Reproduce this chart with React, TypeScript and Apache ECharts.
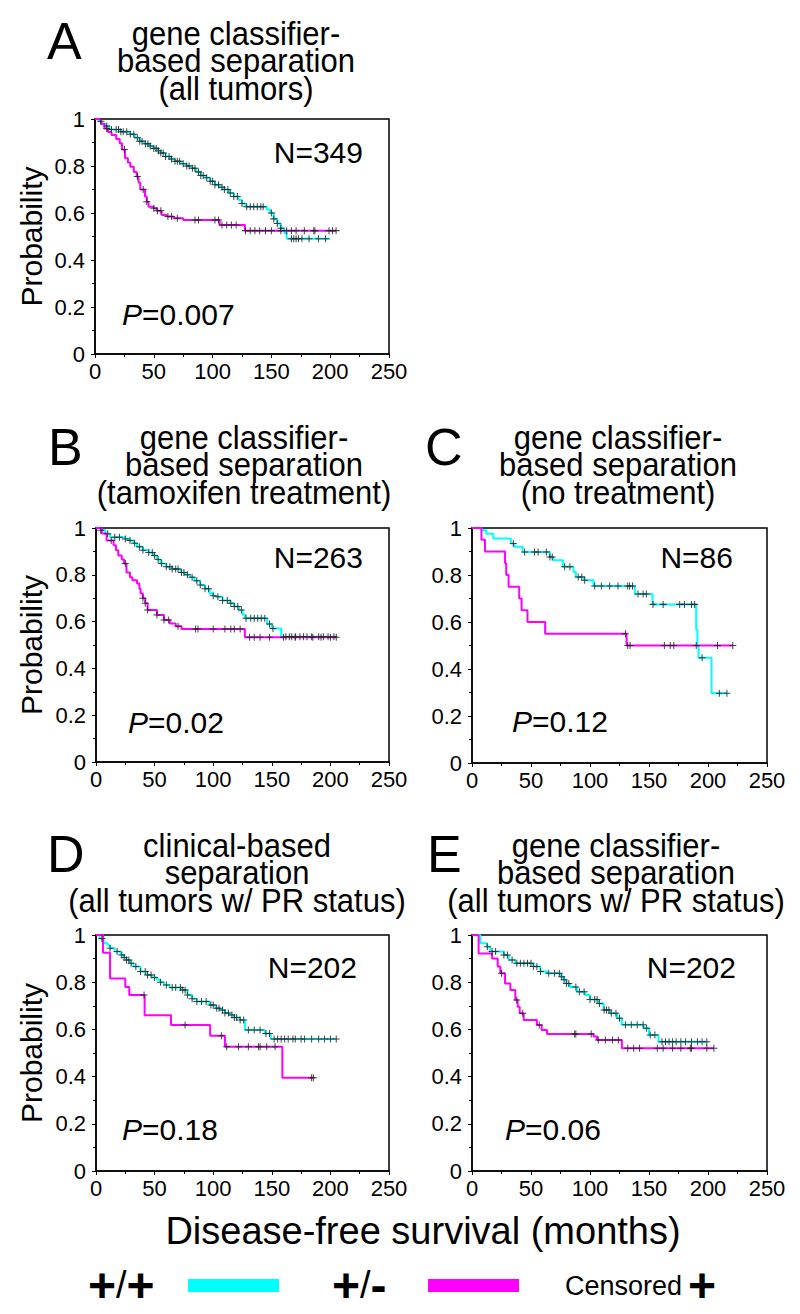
import React, { useEffect, useRef } from 'react';
import * as echarts from 'echarts';

const FONT = '"Liberation Sans", Arial, Helvetica, sans-serif';

// ---- axes ----
const xMin = 0;
const xMax = 250;
const xStep = 50;
const yMin = 0;
const yMax = 1;
const yStep = 0.2;

// ---- labels ----
const panelLetters = ['A', 'B', 'C', 'D', 'E'];
const panelTitles = [
  ['gene classifier-', 'based separation', '(all tumors)'],
  ['gene classifier-', 'based separation', '(tamoxifen treatment)'],
  ['gene classifier-', 'based separation', '(no treatment)'],
  ['clinical-based', 'separation', '(all tumors w/ PR status)'],
  ['gene classifier-', 'based separation', '(all tumors w/ PR status)'],
];
const panelN = ['N=349', 'N=263', 'N=86', 'N=202', 'N=202'];
const panelP = ['0.007', '0.02', '0.12', '0.18', '0.06'];
const yTitle = 'Probability';
const xTitle = 'Disease-free survival (months)';
const legendPlusPlus = '+/+';
const legendPlusMinus = '+/-';
const legendCensored = 'Censored';

// ---- Kaplan-Meier curves [months, probability] ----
const aPP = [[0,1],[3,0.99],[6,0.98],[9,0.97],[12,0.955],[22,0.946],[30,0.935],[34,0.92],[38,0.905],[42,0.895],[46,0.885],[50,0.875],[53,0.865],[56,0.855],[60,0.84],[64,0.83],[68,0.82],[73,0.81],[78,0.8],[82,0.79],[86,0.775],[90,0.76],[94,0.75],[98,0.735],[102,0.72],[106,0.71],[110,0.7],[114,0.685],[118,0.67],[122,0.655],[125,0.64],[128,0.627],[146,0.615],[149,0.6],[152,0.575],[155,0.555],[158,0.535],[161,0.515],[163,0.49],[200,0.49]];
const aPM = [[0,1],[5,0.98],[8,0.96],[11,0.945],[14,0.932],[18,0.915],[21,0.897],[23,0.87],[25.5,0.833],[28,0.815],[30,0.797],[33,0.775],[35.5,0.755],[37,0.73],[38.5,0.7],[42.5,0.67],[44,0.648],[45.5,0.627],[50,0.62],[52.5,0.61],[56.7,0.591],[61,0.585],[66.6,0.578],[75,0.57],[106,0.549],[127.5,0.525],[205,0.525]];
const aPPcens = [5,10,14,18,20,22,24,27,30,33,36,38,40,43,45,47,50,52,54,56,58,60,63,65,68,70,72,75,78,80,83,85,88,90,92,95,98,100,102,105,108,110,113,115,118,121,125,129,132,135,138,141,143,150,152,155,158,167,169,171,173,176,182,190,196];
const aPMcens = [10,25,36,41,44,50,53,56,62,65,70,85,88,102,105,108,112,116,120,128,132,136,140,145,150,158,163,167,171,178,186,187,199,202,205];

const bPP = [[0,1],[4,0.99],[8,0.975],[12,0.96],[25,0.953],[29,0.947],[32,0.935],[35,0.92],[40,0.905],[45,0.895],[49,0.883],[52,0.865],[55,0.848],[60,0.834],[65,0.825],[72,0.81],[76,0.8],[80,0.79],[84,0.775],[89,0.756],[93,0.74],[97,0.72],[100,0.71],[103,0.706],[108,0.69],[114,0.678],[118,0.665],[122,0.65],[125,0.63],[127,0.614],[146,0.59],[150,0.571],[158,0.535],[205,0.535]];
const bPM = [[0,1],[5,0.976],[9,0.947],[15,0.926],[17,0.905],[19,0.883],[22,0.865],[24,0.848],[26,0.81],[29,0.79],[31,0.777],[35,0.763],[37,0.74],[38,0.72],[40,0.7],[42,0.678],[44,0.65],[52,0.628],[58,0.607],[63,0.592],[68,0.58],[73,0.568],[127,0.533],[205,0.533]];
const bPPcens = [4,10,16,20,25,29,33,37,40,45,48,50,53,56,60,63,65,68,70,73,75,78,82,86,89,93,96,100,104,108,112,115,118,121,124,128,132,135,138,141,144,148,151,162,165,167,170,174,177,180,184,190,194,198,203];
const bPMcens = [13,25,40,42,44,52,58,62,70,85,87,100,110,115,118,123,131,135,140,148,160,170,185,192,200,205];

const cPP = [[0,1],[8,0.99],[12,0.976],[18,0.955],[33,0.934],[36,0.92],[43,0.898],[66,0.877],[69,0.863],[77,0.835],[86,0.813],[88,0.792],[95,0.778],[103,0.753],[138,0.719],[153,0.675],[190,0.566],[191,0.495],[192,0.448],[203,0.297],[216,0.297]];
const cPM = [[0,1],[8,0.95],[11,0.9],[28,0.85],[29,0.8],[31,0.75],[40,0.7],[42,0.65],[47,0.6],[62,0.55],[131,0.5],[221,0.5]];
const cPPcens = [35,44.6,53,56,63,66,68,78.5,83,90,93,95.5,104,109.6,116.7,123.7,132,133.6,136,140.7,145,147.7,153.4,162,176,180,186,188.7,195,209.6,216];
const cPMcens = [130,132,134,163,168,171,190,208,221];

const dPP = [[0,1],[3,0.985],[6.5,0.965],[10,0.955],[12,0.944],[16,0.93],[21,0.915],[24,0.905],[26,0.894],[29,0.88],[32,0.866],[38,0.845],[43,0.83],[48,0.82],[52,0.81],[55,0.8],[58,0.788],[63,0.778],[73,0.767],[78,0.746],[82,0.73],[86,0.718],[97,0.703],[102,0.69],[106,0.682],[110,0.67],[114,0.661],[118,0.65],[123,0.64],[127,0.597],[144,0.583],[149,0.559],[205,0.559]];
const dPM = [[0,1],[6,0.925],[12,0.816],[25,0.78],[28.4,0.746],[41.5,0.66],[64,0.619],[97.4,0.573],[110,0.527],[159,0.395],[185.5,0.395]];
const dPPcens = [5,12,18,22,24,26,28,30,34,38,42,44,47,50,55,60,65,68,72,74,76,78,82,86,90,94,98,100,103,105,108,110,113,116,118,120,123,126,130,135,140,145,148,152,155,158,161,164,168,170,175,178,184,190,195,200,205];
const dPMcens = [41,76,107,111.5,121.6,130,138.6,140,145.7,152.8,184,185.5];

const ePP = [[0,1],[7,0.965],[12.7,0.95],[15.5,0.93],[27,0.915],[31,0.894],[36.7,0.88],[52,0.866],[58,0.845],[63.6,0.838],[75,0.823],[77.7,0.81],[80,0.795],[83,0.78],[89,0.76],[96,0.746],[100,0.727],[107,0.71],[111.6,0.682],[117,0.668],[123,0.647],[127,0.62],[145.5,0.605],[150,0.576],[158,0.548],[199,0.548]];
const ePM = [[0,1],[5.6,0.922],[17,0.9],[21.8,0.866],[24,0.838],[28,0.795],[32.5,0.767],[36.7,0.725],[38.7,0.696],[40.4,0.668],[43.8,0.64],[55,0.619],[59,0.597],[63.6,0.58],[103,0.57],[106,0.555],[127,0.52],[205,0.52]];
const ePPcens = [13,17,20,27,30,34,38,41,44,47,50,52,55,58,65,70,74,76,78,80,82,88,91,95,100,104,106,108,112,114,116,118,122,125,130,135,140,145,148,151,155,161,164,167,170,173,177,181,186,191,195,199];
const ePMcens = [25,38,43,57,87,88,101,107,113,119,124,132,137,142,157,162,170,177,185,186,199,205];

const curvesPP = [aPP, bPP, cPP, dPP, ePP];
const curvesPM = [aPM, bPM, cPM, dPM, ePM];
const censPP = [aPPcens, bPPcens, cPPcens, dPPcens, ePPcens];
const censPM = [aPMcens, bPMcens, cPMcens, dPMcens, ePMcens];

// ---- layout (styles / positions) ----
const CYAN = '#00FFFF';
const MAGENTA = '#FF00FF';
const grids = [
  { left: 95, top: 119, width: 294, height: 235 },
  { left: 96, top: 528, width: 293, height: 234 },
  { left: 472, top: 528, width: 295, height: 235 },
  { left: 96, top: 935, width: 293, height: 236 },
  { left: 472, top: 935, width: 295, height: 236 },
];
const letterPos = [[47, 59], [48, 465], [425, 465], [47, 872], [427, 872]];
const titlePos = [[236, 45], [244, 449], [618, 449], [237, 857], [616, 857]];
const nPos = [[363, 163], [363, 568], [733, 568], [357, 978], [736, 978]];
const pPos = [[122, 325], [128, 733], [512, 732], [122, 1140], [505, 1140]];
const showYName = [true, true, false, true, false];

const TITLE_FS = 31;
const TITLE_SY = 1.1;
const TITLE_STEP = 27.7;

const PLUS = 'path://M3,0H4V3H7V4H4V7H3V4H0V3H3Z';

function levelAt(curve: number[][], t: number): number {
  let v = curve[0][1];
  for (const p of curve) {
    if (p[0] <= t) v = p[1];
  }
  return v;
}

function textAt(x: number, baseline: number, text: string, fs: number, align: string, extra: any = {}) {
  return {
    type: 'text',
    x,
    y: baseline - 0.35 * fs,
    silent: true,
    style: {
      text,
      fontSize: fs,
      fontFamily: FONT,
      fill: '#000',
      textAlign: align,
      textVerticalAlign: 'middle',
      align,
      verticalAlign: 'middle',
      ...extra,
    },
  };
}

function centeredText(x: number, y: number, text: string, fs: number, align: string, extra: any = {}) {
  return {
    type: 'text',
    x,
    y,
    silent: true,
    style: {
      text,
      fontSize: fs,
      fontFamily: FONT,
      fill: '#000',
      textAlign: align,
      textVerticalAlign: 'middle',
      align,
      verticalAlign: 'middle',
      ...extra,
    },
  };
}

function titleBlock(cx: number, firstBaseline: number, lines: string[]) {
  const lh = TITLE_STEP / TITLE_SY;
  const top = firstBaseline - TITLE_SY * (lh / 2 + 0.35 * TITLE_FS);
  return {
    type: 'text',
    x: cx,
    y: top,
    scaleY: TITLE_SY,
    silent: true,
    style: {
      text: lines.join('\n'),
      fontSize: TITLE_FS,
      lineHeight: lh,
      fontFamily: FONT,
      fill: '#000',
      textAlign: 'center',
      textVerticalAlign: 'top',
      align: 'center',
      verticalAlign: 'top',
    },
  };
}

function buildOption() {
  const grid: any[] = [];
  const xAxis: any[] = [];
  const yAxis: any[] = [];
  const series: any[] = [];
  const graphic: any[] = [];

  grids.forEach((g, i) => {
    grid.push({ ...g, show: true, borderColor: '#000', borderWidth: 1.5, backgroundColor: 'transparent' });
    xAxis.push({
      gridIndex: i,
      type: 'value',
      min: xMin,
      max: xMax,
      interval: xStep,
      axisLine: { show: true, onZero: false, lineStyle: { color: '#000', width: 1.5 } },
      axisTick: { show: true, length: 4, lineStyle: { color: '#000' } },
      minorTick: { show: true, splitNumber: 2, length: 3, lineStyle: { color: '#000' } },
      splitLine: { show: false },
      axisLabel: { color: '#000', fontSize: 22, fontFamily: FONT, margin: 6 },
    });
    yAxis.push({
      gridIndex: i,
      type: 'value',
      min: yMin,
      max: yMax,
      interval: yStep,
      axisLine: { show: true, onZero: false, lineStyle: { color: '#000', width: 1.5 } },
      axisTick: { show: true, length: 4, lineStyle: { color: '#000' } },
      minorTick: { show: true, splitNumber: 2, length: 3, lineStyle: { color: '#000' } },
      splitLine: { show: false },
      axisLabel: { color: '#000', fontSize: 22, fontFamily: FONT, margin: 10 },
    });

    const common = { xAxisIndex: i, yAxisIndex: i };
    series.push({
      ...common,
      type: 'line',
      step: 'end',
      data: curvesPP[i],
      showSymbol: false,
      lineStyle: { color: CYAN, width: 2 },
      z: 2,
    });
    series.push({
      ...common,
      type: 'line',
      step: 'end',
      data: curvesPM[i],
      showSymbol: false,
      lineStyle: { color: MAGENTA, width: 2 },
      z: 3,
    });
    series.push({
      ...common,
      type: 'scatter',
      data: censPP[i].map((t) => [t, levelAt(curvesPP[i], t)]),
      symbol: PLUS,
      symbolSize: 7,
      itemStyle: { color: '#222', opacity: 0.85 },
      z: 4,
    });
    series.push({
      ...common,
      type: 'scatter',
      data: censPM[i].map((t) => [t, levelAt(curvesPM[i], t)]),
      symbol: PLUS,
      symbolSize: 7,
      itemStyle: { color: '#222', opacity: 0.85 },
      z: 4,
    });

    graphic.push(textAt(letterPos[i][0], letterPos[i][1], panelLetters[i], 52, 'left'));
    graphic.push(titleBlock(titlePos[i][0], titlePos[i][1], panelTitles[i]));
    graphic.push(textAt(nPos[i][0], nPos[i][1], panelN[i], 30, 'right'));
    graphic.push(
      textAt(pPos[i][0], pPos[i][1], `{i|P}=${panelP[i]}`, 30, 'left', {
        rich: { i: { fontStyle: 'italic', fontSize: 30, fontFamily: FONT, fill: '#000' } },
      })
    );
    if (showYName[i]) {
      graphic.push({
        type: 'text',
        x: 31,
        y: g.top + g.height / 2,
        rotation: Math.PI / 2,
        silent: true,
        style: {
          text: yTitle,
          fontSize: 30,
          fontFamily: FONT,
          fill: '#000',
          textAlign: 'center',
          textVerticalAlign: 'middle',
          align: 'center',
          verticalAlign: 'middle',
        },
      });
    }
  });

  // bottom axis title and legend
  graphic.push(textAt(423, 1244, xTitle, 38, 'center'));
  const richLeg = {
    p: { fontSize: 48, lineHeight: 46, fontWeight: 'bold', fontFamily: FONT, fill: '#000' },
    s: { fontSize: 38, lineHeight: 46, fontFamily: FONT, fill: '#000' },
  };
  const [pp1, pp2, pp3] = legendPlusPlus.split('');
  const [pm1, pm2, pm3] = legendPlusMinus.split('');
  const LEG_Y = 1285;
  graphic.push(centeredText(88, LEG_Y, `{p|${pp1}}{s|${pp2}}{p|${pp3}}`, 46, 'left', { rich: richLeg, lineHeight: 46 }));
  graphic.push({ type: 'rect', shape: { x: 188, y: 1279, width: 91, height: 13 }, style: { fill: CYAN }, silent: true });
  graphic.push(centeredText(332, LEG_Y, `{p|${pm1}}{s|${pm2}}{p|${pm3}}`, 46, 'left', { rich: richLeg, lineHeight: 46 }));
  graphic.push({ type: 'rect', shape: { x: 428, y: 1279, width: 91, height: 13 }, style: { fill: MAGENTA }, silent: true });
  graphic.push(centeredText(565, LEG_Y + 1, legendCensored, 27, 'left'));
  graphic.push(centeredText(688, LEG_Y, '+', 48, 'left', { fontWeight: 'bold', lineHeight: 46 }));

  return {
    animation: false,
    backgroundColor: '#fff',
    grid,
    xAxis,
    yAxis,
    series,
    graphic: { elements: graphic },
  };
}

export default function App() {
  const ref = useRef<HTMLDivElement>(null);
  useEffect(() => {
    const chart = echarts.init(ref.current as HTMLDivElement, null, { renderer: 'svg' });
    chart.setOption(buildOption() as any);
    return () => chart.dispose();
  }, []);
  return (
    <div
      ref={ref}
      style={{ position: 'absolute', left: 0, top: 0, width: 800, height: 1314, background: '#fff' }}
    />
  );
}
